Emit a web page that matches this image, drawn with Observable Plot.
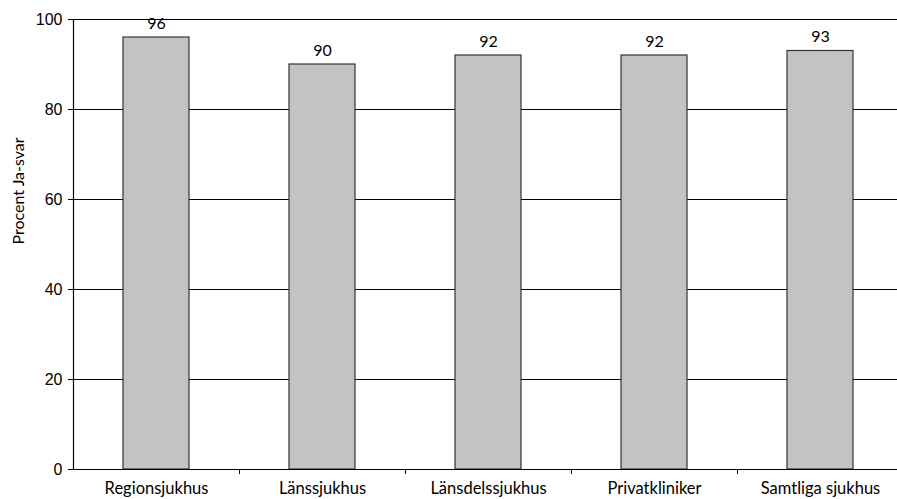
<!DOCTYPE html>
<html>
<head>
<meta charset="utf-8">
<script src="https://cdn.jsdelivr.net/npm/d3@7"></script>
<script src="https://cdn.jsdelivr.net/npm/@observablehq/plot@0.6"></script>
<style>
  body { margin: 0; background: #fff; }
  #chart svg { display: block; }
</style>
</head>
<body>
<div id="chart"></div>
<script>
// Share of "yes" answers by hospital type
const categories = ["Regionsjukhus", "Länssjukhus", "Länsdelssjukhus", "Privatkliniker", "Samtliga sjukhus"];
const values = [96, 90, 92, 92, 93];
const yTicks = [0, 20, 40, 60, 80, 100];
const gridLines = [20, 40, 60, 80, 100];
const yTitle = ["Procent Ja-svar"];

const data = categories.map((c, i) => ({category: c, value: values[i]}));

const left = 73;
const step = 166; // width of one category band
const labelFont = "Lato, 'Open Sans', sans-serif";

const chart = Plot.plot({
  width: 897,
  height: 499,
  marginLeft: left,
  marginRight: 0,
  marginTop: 19,
  marginBottom: 30,
  style: {background: "#fff", color: "#000", overflow: "hidden"},
  x: {domain: categories, range: [left, left + step * categories.length], paddingInner: 0.6, paddingOuter: 0.3, label: null},
  y: {domain: [0, 100], label: null},
  marks: [
    // horizontal grid
    Plot.ruleY(gridLines, {stroke: "#000", strokeWidth: 1}),
    // bars
    Plot.barY(data, {x: "category", y: "value", fill: "#c3c3c3", stroke: "#333", strokeWidth: 1.2}),
    // value labels
    Plot.text(data, {x: "category", y: "value", text: d => String(d.value), dy: -14, fontSize: 16, fontFamily: labelFont, fill: "#000"}),
    // baseline and vertical axis line
    Plot.ruleY([0], {stroke: "#000", strokeWidth: 1.2}),
    Plot.ruleX([categories[0]], {x: d => d, dx: -step / 2, y1: 0, y2: 100, stroke: "#000", strokeWidth: 1.2}),
    // small ticks between categories
    Plot.ruleX(categories.slice(1), {x: d => d, dx: -step / 2, y1: 0, y2: 0, insetTop: 5, stroke: "#000"}),
    // axes
    Plot.axisY({ticks: yTicks, tickSize: 5, tickPadding: 6, fontSize: 16, fontFamily: "'Liberation Sans', Arial, sans-serif", label: null}),
    Plot.axisX({tickSize: 0, tickPadding: 13, fontSize: 16.5, fontFamily: labelFont, label: null}),
    // y axis title
    Plot.text(yTitle, {frameAnchor: "left", rotate: -90, dx: -55, fontSize: 16, fontFamily: labelFont, fill: "#000"})
  ]
});

document.getElementById("chart").append(chart);
</script>
</body>
</html>
